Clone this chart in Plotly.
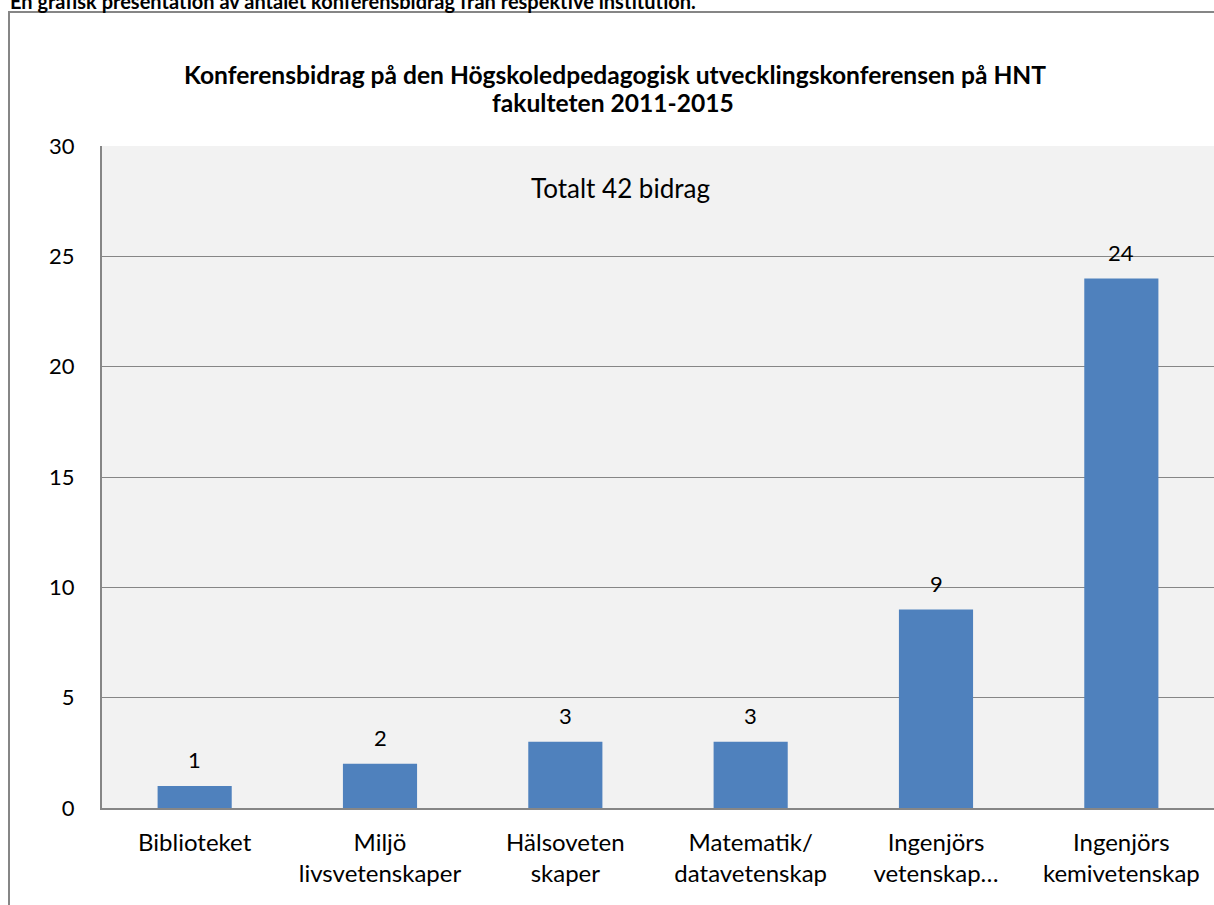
import plotly.graph_objects as go

categories = [
    "Biblioteket",
    "Miljö<br>livsvetenskaper",
    "Hälsoveten<br>skaper",
    "Matematik/<br>datavetenskap",
    "Ingenjörs<br>vetenskap…",
    "Ingenjörs<br>kemivetenskap",
]
values = [1, 2, 3, 3, 9, 24]
y_ticks = [0, 5, 10, 15, 20, 25, 30]

title_lines = [
    "Konferensbidrag på den Högskoledpedagogisk utvecklingskonferensen på HNT",
    "fakulteten 2011-2015",
]
caption = "En grafisk presentation av antalet konferensbidrag från respektive institution."
note = "Totalt 42 bidrag"

FONT = "Lato, 'Open Sans', sans-serif"
W, H = 1214, 905
L, R, T, B = 102, 0, 146, 97
ph = H - T - B
pw = W - L - R

fig = go.Figure()
fig.add_trace(go.Bar(
    x=categories, y=values,
    marker=dict(color="#4f81bd", line=dict(width=0)),
    width=0.4,
    hoverinfo="x+y",
))

def py(pix):
    return (H - B - pix) / ph

def px(pix):
    return (pix - L) / pw

annotations = [
    dict(text="<b>" + title_lines[0] + "</b>", xref="paper", yref="paper",
         x=px(615), y=py(74), xanchor="center", yanchor="middle",
         showarrow=False, font=dict(family=FONT, size=24.6, color="#000000")),
    dict(text="<b>" + title_lines[1] + "</b>", xref="paper", yref="paper",
         x=px(613), y=py(103), xanchor="center", yanchor="middle",
         showarrow=False, font=dict(family=FONT, size=24.6, color="#000000")),
    dict(text=note, xref="paper", yref="paper",
         x=px(620), y=py(188), xanchor="center", yanchor="middle",
         showarrow=False, font=dict(family=FONT, size=26, color="#000000")),
    dict(text="<b>" + caption + "</b>", xref="paper", yref="paper",
         x=px(8), y=py(15), xanchor="left", yanchor="bottom",
         showarrow=False, font=dict(family=FONT, size=20, color="#000000")),
]
for c, v in zip(categories, values):
    annotations.append(dict(
        text=str(v), x=c, y=v, xref="x", yref="y",
        xanchor="center", yanchor="middle", yshift=26, showarrow=False,
        font=dict(family=FONT, size=22, color="#000000"),
    ))

fig.update_layout(
    width=W, height=H,
    margin=dict(l=L, r=R, t=T, b=B, pad=0),
    paper_bgcolor="#ffffff",
    plot_bgcolor="#f2f2f2",
    showlegend=False,
    font=dict(family=FONT, size=24, color="#000000"),
    annotations=annotations,
    shapes=[dict(type="rect", xref="paper", yref="paper",
                 x0=px(9), x1=px(W + 5),
                 y0=py(H + 5), y1=py(12),
                 line=dict(color="#868686", width=2), fillcolor="rgba(0,0,0,0)",
                 layer="below")],
    xaxis=dict(
        showgrid=False, showline=True, linecolor="#868686", linewidth=2,
        ticks="", tickfont=dict(family=FONT, size=24, color="#000000"),
        ticklabelstandoff=12, fixedrange=True,
    ),
    yaxis=dict(
        range=[0, 30], tickvals=y_ticks, showgrid=True, gridcolor="#868686",
        gridwidth=1, showline=True, linecolor="#868686", linewidth=2,
        zeroline=False, ticks="", ticklabelstandoff=21,
        tickfont=dict(family=FONT, size=22, color="#000000"),
        fixedrange=True,
    ),
)

fig.write_html(
    "out.html",
    config={"displayModeBar": False},
    post_script="document.body.style.margin='0';document.body.style.overflow='hidden';",
)
